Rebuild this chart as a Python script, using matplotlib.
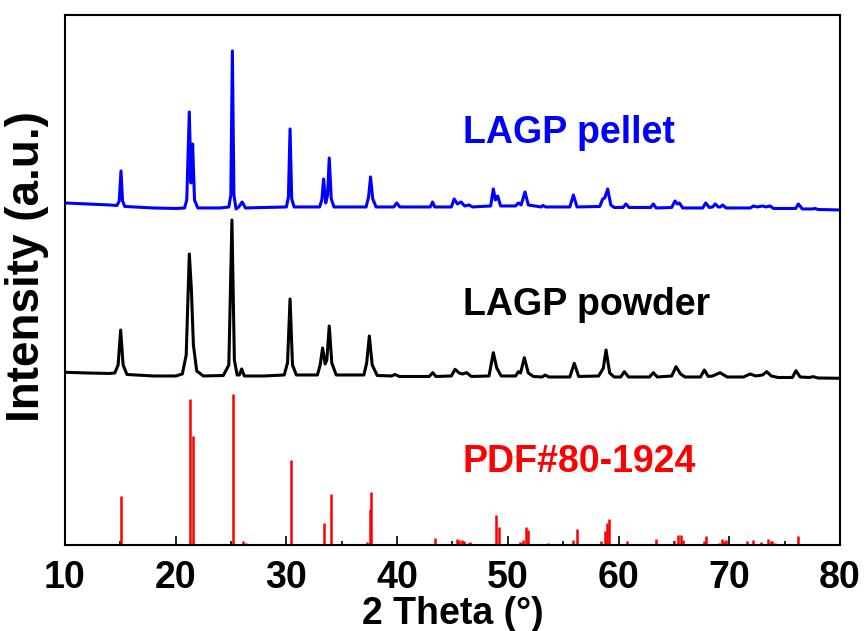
import matplotlib
matplotlib.use("Agg")
import matplotlib.pyplot as plt

plt.rcParams['font.family'] = ['Liberation Sans', 'DejaVu Sans']
plt.rcParams['font.weight'] = 'bold'

# LAGP pellet trace (2 theta, intensity in arbitrary offset units)
pellet_x = [10.0, 12.0, 14.0, 14.7, 14.9, 15.06, 15.2, 15.4, 18.0, 20.0, 20.8, 21.0, 21.23, 21.38, 21.53, 21.7,
            22.0, 24.0, 24.8, 24.98, 25.12, 25.26, 25.45, 25.7, 26.0, 26.3, 28.0, 30.0, 30.18, 30.33, 30.48,
            30.7, 33.0, 33.2, 33.36, 33.55, 33.72, 33.87, 34.05, 34.3, 37.2, 37.42, 37.6, 37.8, 38.1, 39.7,
            39.96, 40.25, 43.0, 43.2, 43.4, 44.9, 45.15, 45.45, 45.77, 46.1, 46.5, 46.8, 48.45, 48.69, 48.88,
            49.08, 49.35, 50.7, 50.95, 51.2, 51.55, 51.85, 53.0, 53.18, 53.4, 55.6, 55.92, 56.25, 58.3, 58.57,
            58.75, 59.02, 59.3, 59.6, 60.4, 60.67, 60.95, 62.9, 63.14, 63.4, 64.8, 65.1, 65.3, 65.49, 65.8,
            67.6, 67.87, 68.2, 68.5, 68.74, 69.0, 69.2, 69.41, 69.7, 71.3, 71.9, 72.18, 72.5, 73.02, 73.3,
            73.68, 74.0, 76.0, 76.24, 76.6, 77.5, 77.75, 78.0, 80.0]
pellet_y = [342, 341, 340, 339.5, 344, 374, 344, 338.5, 337, 336.5, 337, 345, 433, 362, 401, 345,
            337, 337, 338, 350, 494, 350, 336, 338, 343, 337, 337.5, 338, 348, 416, 346,
            338, 338, 345, 366, 342, 350, 387, 346, 338, 338, 348, 368, 346, 338, 338,
            342, 338, 338, 343, 338, 338, 346, 341, 343, 339, 340, 338, 339, 356, 345,
            349, 339, 339, 342, 340, 353, 340, 338, 339.5, 338, 338, 350, 338, 338.5, 346,
            347, 356, 340, 337.5, 337.5, 341, 337.5, 337.5, 341, 337, 337.5, 344, 341, 342, 337,
            337, 342, 337.5, 338, 341, 338, 338, 340, 337, 337, 337, 339, 338, 339, 338,
            339, 336.5, 336.5, 341, 336, 336, 336.5, 335.5, 335]

# LAGP powder trace
powder_x = [10.0, 12.0, 14.0, 14.5, 14.8, 15.03, 15.25, 15.6, 18.0, 20.0, 20.6, 20.95, 21.23, 21.42, 21.6,
            21.9, 22.5, 24.3, 24.8, 25.08, 25.3, 25.55, 25.75, 25.96, 26.2, 28.0, 29.8, 30.1, 30.33, 30.55,
            30.9, 32.8, 33.05, 33.27, 33.5, 33.65, 33.87, 34.1, 34.5, 37.0, 37.25, 37.49, 37.75, 38.2, 39.5,
            39.81, 40.2, 42.9, 43.22, 43.5, 44.9, 45.23, 45.6, 45.9, 46.28, 46.7, 48.3, 48.69, 49.0, 49.4,
            50.7, 50.95, 51.15, 51.49, 51.85, 52.3, 53.1, 53.36, 53.7, 55.6, 56.0, 56.4, 58.2, 58.62, 58.87,
            59.2, 59.6, 60.2, 60.52, 60.9, 62.8, 63.14, 63.5, 64.8, 65.19, 65.6, 66.0, 67.4, 67.75, 68.1,
            68.5, 69.17, 69.8, 71.3, 71.88, 72.4, 73.0, 73.38, 73.8, 74.4, 75.7, 76.03, 76.4, 77.2, 77.6,
            78.0, 80.0]
powder_y = [172.7, 172, 171.5, 172, 180, 215, 180, 170.5, 169, 169, 171, 190, 291, 255, 200,
            174, 169, 169.5, 180, 325, 185, 170, 170, 176, 169, 169, 170, 182, 246, 180,
            170, 170, 180, 197, 181, 185, 219, 182, 170, 170, 182, 209, 180, 169.5, 169,
            170.5, 168.5, 168.5, 172.3, 168.5, 169, 175.7, 172, 171, 172.3, 168.5, 169, 192.3, 177, 169,
            169, 173.3, 172, 187.3, 172, 168.5, 168, 170, 168, 168, 181.7, 168.5, 169, 176.7, 195,
            172, 168, 168, 173.3, 168, 168, 172.3, 168, 169, 178.3, 171, 168, 168, 175, 168.5,
            169, 172.3, 168, 168, 171, 169, 170, 173.3, 169, 167.5, 167.5, 174.3, 168, 167.5, 168.3,
            167, 166.7]

# PDF#80-1924 reference lines
pdf_pos = [15.06, 21.32, 21.53, 25.18, 26.08, 26.38, 30.44, 33.36, 34.03, 37.25, 37.55, 37.67, 43.42,
           43.78, 45.43, 45.61, 45.83, 46.04, 46.37, 46.58, 48.93, 49.17, 51.1, 51.34, 51.64, 51.85,
           53.6, 54.26, 55.89, 56.25, 58.42, 58.75, 58.96, 59.11, 60.49, 60.79, 63.35, 64.98, 65.4,
           65.67, 65.85, 67.72, 67.93, 69.07, 69.32, 69.5, 69.68, 71.6, 72.14, 72.84, 73.5, 73.74,
           73.89, 74.13, 76.24, 77.75]
pdf_int = [49.3, 145.7, 109.3, 151.3, 4, 1.5, 85, 22.3, 50.7, 2.7, 36, 53, 7.3,
           0.5, 6.3, 4.7, 4.7, 3.5, 2, 3, 30.3, 17.7, 2.7, 4.7, 18, 15,
           1.5, 0.5, 5, 16.3, 4.3, 13.7, 21.7, 25.7, 0.3, 4, 5.7, 4, 9.7,
           9.7, 4.7, 4, 8.7, 2, 6.3, 4.3, 5, 4, 5, 3.3, 6, 4.3,
           4.3, 2, 9, 0.5]

fig = plt.figure(figsize=(8.64, 6.31), dpi=100)
ax = fig.add_axes([0.0752, 0.1363, 0.897, 0.840])

ax.vlines(pdf_pos, 0, pdf_int, color='red', lw=1.8)
ax.plot(powder_x, powder_y, color='black', lw=2.2)
ax.plot(pellet_x, pellet_y, color='blue', lw=2.2)

ax.text(45.95, 412, 'LAGP pellet', color='blue', fontsize=27, fontweight='bold', va='center', ha='left')
ax.text(45.95, 240, 'LAGP powder', color='black', fontsize=27, fontweight='bold', va='center', ha='left')
ax.text(45.95, 83, 'PDF#80-1924', color='red', fontsize=27, fontweight='bold', va='center', ha='left')

ax.set_xlim(10, 80)
ax.set_ylim(0, 530)
ax.set_xticks(range(10, 81, 10))
ax.set_xticks(range(15, 80, 10), minor=True)
ax.set_yticks([])
ax.tick_params(axis='x', which='major', direction='in', length=6.5, width=1.2, labelsize=27, pad=11)
ax.tick_params(axis='x', which='minor', direction='in', length=3.2, width=1.2)
for lab in ax.get_xticklabels():
    lab.set_fontweight('bold')
for sp in ax.spines.values():
    sp.set_linewidth(1.5)

ax.set_xlabel('2 Theta (°)', fontsize=27, fontweight='bold', labelpad=0)
ax.set_ylabel('Intensity (a.u.)', fontsize=33, fontweight='bold')
ax.yaxis.set_label_coords(-0.021, 0.526)

fig.savefig('out.png', dpi=100)
